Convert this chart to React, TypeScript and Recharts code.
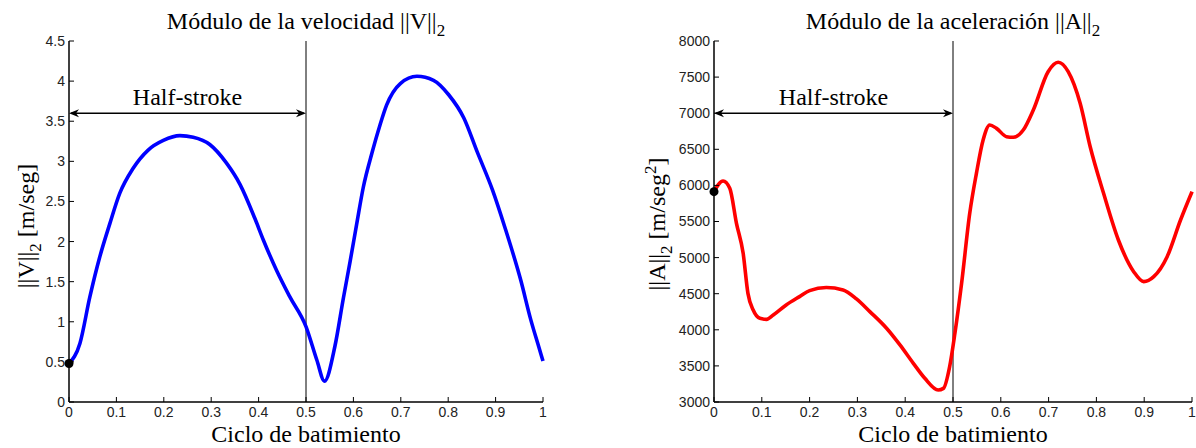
import React from 'react';
import { LineChart, Line, XAxis, YAxis, ReferenceLine, ReferenceDot } from 'recharts';

const xTicks = [0, 0.1, 0.2, 0.3, 0.4, 0.5, 0.6, 0.7, 0.8, 0.9, 1];
const velTicks = [0, 0.5, 1, 1.5, 2, 2.5, 3, 3.5, 4, 4.5];
const accTicks = [3000, 3500, 4000, 4500, 5000, 5500, 6000, 6500, 7000, 7500, 8000];

const velT = [0, 0.023, 0.044, 0.065, 0.086, 0.107, 0.135, 0.167, 0.199, 0.234, 0.262, 0.297, 0.332, 0.361, 0.392, 0.41, 0.438, 0.466, 0.5, 0.523, 0.539, 0.561, 0.579, 0.593, 0.607, 0.621, 0.639, 0.656, 0.67, 0.699, 0.734, 0.769, 0.801, 0.833, 0.861, 0.893, 0.921, 0.953, 0.974, 0.992, 1.0];
const velV = [0.48, 0.73, 1.31, 1.81, 2.22, 2.6, 2.91, 3.14, 3.26, 3.32, 3.3, 3.21, 2.98, 2.71, 2.29, 2.02, 1.64, 1.31, 0.94, 0.52, 0.26, 0.695, 1.3, 1.75, 2.22, 2.68, 3.1, 3.45, 3.7, 3.97, 4.06, 4.01, 3.83, 3.54, 3.12, 2.65, 2.15, 1.52, 1.03, 0.67, 0.51];

const accT = [0, 0.019, 0.033, 0.047, 0.061, 0.071, 0.082, 0.096, 0.11, 0.124, 0.151, 0.179, 0.2, 0.235, 0.27, 0.298, 0.326, 0.361, 0.389, 0.417, 0.441, 0.469, 0.48, 0.493, 0.504, 0.518, 0.535, 0.549, 0.563, 0.577, 0.591, 0.612, 0.626, 0.647, 0.668, 0.699, 0.72, 0.741, 0.766, 0.787, 0.815, 0.846, 0.878, 0.899, 0.92, 0.948, 0.976, 1.0];
const accA = [5913, 6061, 5960, 5475, 5059, 4505, 4274, 4159, 4145, 4205, 4344, 4460, 4543, 4585, 4552, 4428, 4252, 4021, 3790, 3536, 3328, 3166, 3189, 3490, 3951, 4644, 5613, 6167, 6629, 6837, 6790, 6675, 6666, 6767, 7044, 7575, 7705, 7575, 7137, 6536, 5890, 5244, 4805, 4667, 4736, 5013, 5521, 5913];

const halfStroke = { from: 0, to: 0.5, vel: 3.6, acc: 7000, label: 'Half-stroke' };
const startVel = { t: 0, v: 0.48 };
const startAcc = { t: 0, a: 5913 };

const velData = velT.map((t, i) => ({ t, v: velV[i] }));
const accData = accT.map((t, i) => ({ t, a: accA[i] }));

const SERIF = '"Liberation Serif", "Times New Roman", Times, serif';
const SANS = '"Liberation Sans", Arial, Helvetica, sans-serif';
const tickStyle = { fontSize: 14, fontFamily: SANS, fill: '#222' };

const ArrowShape = (props: any) => {
  const { x1, y1, x2, y2 } = props;
  const y = (y1 + y2) / 2;
  const l = Math.min(x1, x2);
  const r = Math.max(x1, x2);
  const head = 10;
  const hw = 4;
  return (
    <g>
      <line x1={l + 2} y1={y} x2={r - 2} y2={y} stroke="#000" strokeWidth={1.5} />
      <path d={`M${l},${y} L${l + head},${y - hw} L${l + head - 3},${y} L${l + head},${y + hw} Z`} fill="#000" />
      <path d={`M${r},${y} L${r - head},${y - hw} L${r - head + 3},${y} L${r - head},${y + hw} Z`} fill="#000" />
      <text x={(l + r) / 2} y={y - 8} textAnchor="middle" fontFamily={SERIF} fontSize={24} fill="#000">
        {halfStroke.label}
      </text>
    </g>
  );
};

function Panel(props: {
  width: number;
  yWidth: number;
  marginRight: number;
  data: any[];
  dataKey: string;
  color: string;
  domain: [number, number];
  yTicks: number[];
  arrowY: number;
  dot: { x: number; y: number };
}) {
  const { width, yWidth, marginRight, data, dataKey, color, domain, yTicks, arrowY, dot } = props;
  return (
    <LineChart width={width} height={448} data={data} margin={{ top: 41, right: marginRight, bottom: 16, left: 0 }}>
      <XAxis
        xAxisId="b"
        dataKey="t"
        type="number"
        domain={[0, 1]}
        ticks={xTicks}
        tickSize={-5}
        tickMargin={10}
        height={30}
        axisLine={{ stroke: '#000', strokeWidth: 1.5 }}
        tickLine={{ stroke: '#000' }}
        tick={tickStyle}
        interval={0}
      />
      <XAxis
        xAxisId="t"
        orientation="top"
        dataKey="t"
        type="number"
        domain={[0, 1]}
        ticks={xTicks}
        tickSize={-5}
        height={0}
        axisLine={{ stroke: '#000', strokeWidth: 1.5 }}
        tickLine={{ stroke: '#000' }}
        tick={false}
        interval={0}
      />
      <YAxis
        yAxisId="l"
        type="number"
        domain={domain}
        ticks={yTicks}
        tickSize={-5}
        tickMargin={9}
        width={yWidth}
        axisLine={{ stroke: '#000', strokeWidth: 1.5 }}
        tickLine={{ stroke: '#000' }}
        tick={tickStyle}
        interval={0}
      />
      <YAxis
        yAxisId="r"
        orientation="right"
        type="number"
        domain={domain}
        ticks={yTicks}
        tickSize={-5}
        width={0}
        axisLine={{ stroke: '#000', strokeWidth: 1.5 }}
        tickLine={{ stroke: '#000' }}
        tick={false}
        interval={0}
      />
      <ReferenceLine xAxisId="b" yAxisId="l" x={halfStroke.to} stroke="#000" strokeWidth={1} />
      <ReferenceLine
        xAxisId="b"
        yAxisId="l"
        segment={[
          { x: halfStroke.from, y: arrowY },
          { x: halfStroke.to, y: arrowY },
        ]}
        shape={ArrowShape}
        ifOverflow="visible"
      />
      <Line
        xAxisId="b"
        yAxisId="l"
        type="monotone"
        dataKey={dataKey}
        stroke={color}
        strokeWidth={3.6}
        dot={false}
        activeDot={false}
        isAnimationActive={false}
      />
      <ReferenceDot xAxisId="b" yAxisId="l" x={dot.x} y={dot.y} r={4.5} fill="#000" stroke="none" ifOverflow="visible" />
    </LineChart>
  );
}

export default function App() {
  return (
    <div style={{ position: 'absolute', left: 0, top: 0, width: 1196, height: 448, background: '#fff' }}>
      <div style={{ position: 'absolute', left: 0, top: 0 }}>
        <Panel
          width={560}
          yWidth={69}
          marginRight={17}
          data={velData}
          dataKey="v"
          color="#0000ff"
          domain={[0, 4.5]}
          yTicks={velTicks}
          arrowY={halfStroke.vel}
          dot={{ x: startVel.t, y: startVel.v }}
        />
      </div>
      <div style={{ position: 'absolute', left: 600, top: 0 }}>
        <Panel
          width={596}
          yWidth={114}
          marginRight={4}
          data={accData}
          dataKey="a"
          color="#ff0000"
          domain={[3000, 8000]}
          yTicks={accTicks}
          arrowY={halfStroke.acc}
          dot={{ x: startAcc.t, y: startAcc.a }}
        />
      </div>
      <svg
        width={1196}
        height={448}
        style={{ position: 'absolute', left: 0, top: 0, pointerEvents: 'none' }}
        fontFamily={SERIF}
        fill="#000"
      >
        <text x={306} y={29} textAnchor="middle" fontSize={24}>
          Módulo de la velocidad ||V||<tspan fontSize={17} dy={7}>2</tspan>
        </text>
        <text x={953} y={29} textAnchor="middle" fontSize={24}>
          Módulo de la aceleración ||A||<tspan fontSize={17} dy={7}>2</tspan>
        </text>
        <text x={306} y={442} textAnchor="middle" fontSize={24}>
          Ciclo de batimiento
        </text>
        <text x={953} y={442} textAnchor="middle" fontSize={24}>
          Ciclo de batimiento
        </text>
        <text transform="translate(34,226) rotate(-90)" textAnchor="middle" fontSize={24}>
          ||V||<tspan fontSize={17} dy={7}>2</tspan>
          <tspan dy={-7}> [m/seg]</tspan>
        </text>
        <text transform="translate(665,224) rotate(-90)" textAnchor="middle" fontSize={24}>
          ||A||<tspan fontSize={17} dy={7}>2</tspan>
          <tspan dy={-7}> [m/seg</tspan>
          <tspan fontSize={17} dy={-9}>2</tspan>
          <tspan dy={9}>]</tspan>
        </text>
      </svg>
    </div>
  );
}
